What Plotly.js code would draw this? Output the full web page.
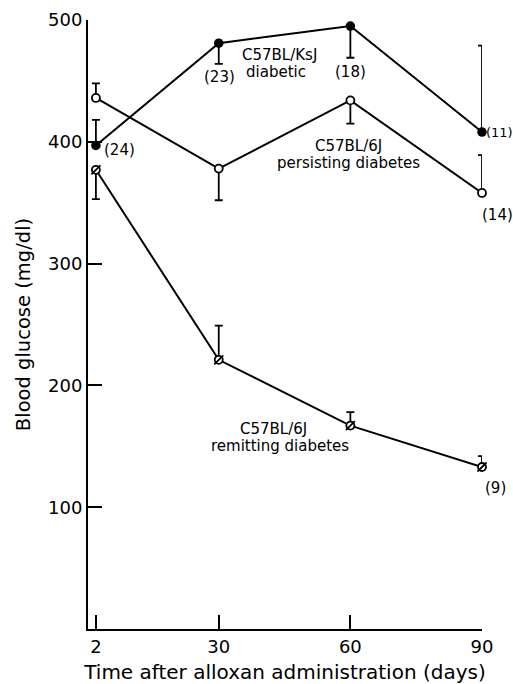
<!DOCTYPE html>
<html>
<head>
<meta charset="utf-8">
<script src="https://cdn.plot.ly/plotly-3.0.1.min.js"></script>
<style>html,body{margin:0;padding:0;background:#fff;}#chart{width:513px;height:684px;}</style>
</head>
<body>
<div id="chart"></div>
<script>
// Data
var days = [2, 30, 60, 90];
var xTickLabels = ['2', '30', '60', '90'];
var yTickVals = [100, 200, 300, 400, 500];

var ksjDiabetic = [397, 481, 495, 408];
var ksjErrUp = [21, 0, 0, 71];
var ksjErrDown = [0, 17, 26, 0];
var ksjN = ['(24)', '(23)', '(18)', '(11)'];

var b6Persist = [436, 378, 434, 358];
var b6PersistErrUp = [12, 0, 0, 31];
var b6PersistErrDown = [0, 26, 19, 0];
var b6PersistN = ['(14)'];

var b6Remit = [377, 221, 167, 133];
var b6RemitErrUp = [0, 28, 11, 9];
var b6RemitErrDown = [24, 0, 0, 0];
var b6RemitN = ['(9)'];

var FONT = 'DejaVu Sans, Arial, sans-serif';

function errY(up, down) {
  return {type: 'data', symmetric: false, array: up, arrayminus: down,
          color: '#000', thickness: 1.8, width: 4};
}

var traces = [
  {x: days, y: b6Remit, mode: 'lines+markers', cliponaxis: false, hoverinfo: 'none',
   line: {color: '#000', width: 2},
   marker: {symbol: 'circle', size: 8, color: '#fff', line: {color: '#000', width: 1.8}},
   error_y: errY(b6RemitErrUp, b6RemitErrDown)},
  {x: days, y: b6Remit, mode: 'markers', cliponaxis: false, hoverinfo: 'none',
   marker: {symbol: 'line-ne', size: 9, color: '#000', line: {color: '#000', width: 1.8}}},
  {x: days, y: b6Persist, mode: 'lines+markers', cliponaxis: false, hoverinfo: 'none',
   line: {color: '#000', width: 2},
   marker: {symbol: 'circle', size: 8, color: '#fff', line: {color: '#000', width: 1.8}},
   error_y: errY(b6PersistErrUp, b6PersistErrDown)},
  {x: days, y: ksjDiabetic, mode: 'lines+markers', cliponaxis: false, hoverinfo: 'none',
   line: {color: '#000', width: 2},
   marker: {symbol: 'circle', size: 9.5, color: '#000', line: {color: '#000', width: 0}},
   error_y: errY(ksjErrUp, ksjErrDown)}
];

function ann(text, x, y, xanchor, xshift, size) {
  return {text: text, x: x, y: y, xref: 'x', yref: 'y', showarrow: false,
          xanchor: xanchor || 'center', yanchor: 'middle', xshift: xshift || 0,
          borderpad: 0,
          font: {family: FONT, size: size || 15, color: '#000'}};
}

var annotations = [
  ann(ksjN[0], 3.6, 393, 'left'),
  ann(ksjN[1], 30.1, 453),
  ann(ksjN[2], 60, 457),
  ann(ksjN[3], 90, 408, 'left', 3, 13),
  ann('C57BL/KsJ', 43.8, 471),
  ann('diabetic', 43.1, 457.5),
  ann('C57BL/6J', 59.6, 396.5),
  ann('persisting diabetes', 59.6, 382.5),
  ann(b6PersistN[0], 90, 340, 'center', 15),
  ann('C57BL/6J', 42.5, 164.5),
  ann('remitting diabetes', 44, 150.5),
  ann(b6RemitN[0], 90, 116, 'center', 13)
];

var layout = {
  width: 513, height: 684,
  margin: {l: 88, r: 31, t: 20, b: 55},
  paper_bgcolor: '#fff', plot_bgcolor: '#fff',
  showlegend: false,
  font: {family: FONT, color: '#000'},
  xaxis: {
    range: [0.2, 90], tickvals: days, ticktext: xTickLabels,
    ticks: 'inside', ticklen: 14, tickwidth: 2, tickcolor: '#000',
    showline: true, linewidth: 2, linecolor: '#000',
    showgrid: false, zeroline: false,
    tickfont: {family: FONT, size: 18, color: '#000'},
    title: {text: 'Time after alloxan administration (days)', standoff: 11,
            font: {family: FONT, size: 20, color: '#000'}}
  },
  yaxis: {
    range: [0, 500], tickvals: yTickVals,
    ticks: 'inside', ticklen: 14, tickwidth: 2, tickcolor: '#000',
    showline: true, linewidth: 2, linecolor: '#000',
    showgrid: false, zeroline: false,
    tickfont: {family: FONT, size: 18, color: '#000'},
    title: {text: 'Blood glucose (mg/dl)', standoff: 12,
            font: {family: FONT, size: 19.5, color: '#000'}}
  },
  annotations: annotations
};

Plotly.newPlot('chart', traces, layout, {displayModeBar: false, staticPlot: true});
</script>
</body>
</html>
